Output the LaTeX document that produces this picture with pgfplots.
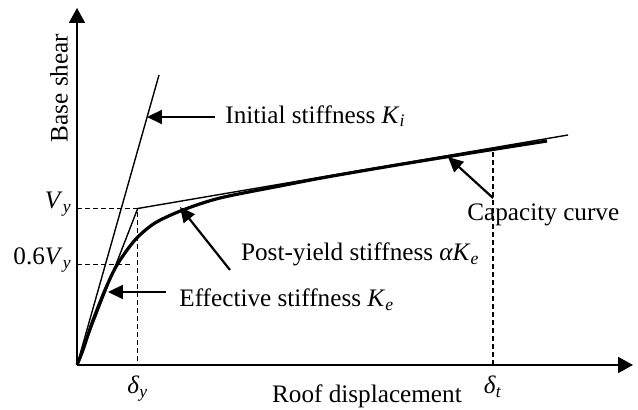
\documentclass[border=0pt]{standalone}
\usepackage{fontspec}
\setmainfont{Liberation Serif}
\usepackage{pgfplots}
\pgfplotsset{compat=1.18}
\usetikzlibrary{arrows.meta}
\newcommand{\sub}[1]{\textsubscript{\textit{#1}}}
\newcommand{\F}{\fontsize{12.6}{15}\selectfont}
\begin{document}
\begin{tikzpicture}
\path (-38.5pt,-22.5pt) rectangle (280.5pt,182.5pt);
\begin{axis}[
  at={(0,0)}, anchor=south west,
  x=0.5pt, y=0.5pt,
  xmin=0, xmax=556, ymin=0, ymax=357,
  axis lines=left,
  axis line style={line width=0.9pt},
  x axis line style={-{Triangle[length=7.5pt,width=8pt]}},
  y axis line style={-{Triangle[length=7.5pt,width=8pt]}},
  clip=false,
  major tick length=0pt,
  xtick={60.7,416},
  xticklabels={\F\textit{δ}\sub{y}, \F\textit{δ}\sub{t}},
  ytick={100.5,156.5},
  yticklabels={\F 0.6\textit{V}\sub{y}, \F\textit{V}\sub{y}},
  xticklabel style={inner sep=0pt, anchor=base, yshift=-14.5pt},
  yticklabel style={inner sep=0pt, anchor=base east, xshift=-2.5pt},
]
% initial stiffness
\addplot[black, line width=0.7pt] coordinates {(0,0) (82,290)};
% effective stiffness + post-yield (bilinear)
\addplot[black, line width=0.7pt] coordinates {(0,0) (60.7,156.5) (491,230)};
% capacity curve
\addplot[black, line width=1.6pt, smooth] coordinates {
 (0,0) (6,15) (15,42) (28,75) (40,100) (58,125) (78,142) (106,155)
 (143,167) (203,179) (250,188) (320,200) (400,213) (470,224)};
% dashed guides
\addplot[black, line width=0.7pt, dash pattern=on 2.5pt off 1.5pt] coordinates {(0,156.5) (60.7,156.5) (60.7,0)};
\addplot[black, line width=0.7pt, dash pattern=on 2.5pt off 1.5pt] coordinates {(0,100.5) (53,100.5)};
\addplot[black, line width=0.7pt, dash pattern=on 2.5pt off 1.5pt] coordinates {(416,0) (416,214)};
% annotations
\draw[-{Triangle[length=7.5pt,width=7pt]}, line width=1.1pt] (axis cs:138,248) -- (axis cs:70,248);
\node[anchor=base west, inner sep=0pt] at (axis cs:148,241.7) {\F Initial stiffness \textit{K}\sub{i}};
\draw[-{Triangle[length=7.5pt,width=7pt]}, line width=1.1pt] (axis cs:89,73) -- (axis cs:31,73);
\node[anchor=base west, inner sep=0pt] at (axis cs:102,58.5) {\F Effective stiffness \textit{K}\sub{e}};
\draw[-{Triangle[length=7.5pt,width=7pt]}, line width=1.1pt] (axis cs:153,95) -- (axis cs:103,158);
\node[anchor=base west, inner sep=0pt] at (axis cs:163.7,104.5) {\F Post-yield stiffness \textit{αK}\sub{e}};
\draw[-{Triangle[length=7.5pt,width=7pt]}, line width=1.1pt] (axis cs:416,167) -- (axis cs:371,208);
\node[anchor=base west, inner sep=0pt] at (axis cs:390,144.5) {\F Capacity curve};
\node[anchor=base west, inner sep=0pt] at (axis cs:194.7,-38) {\F Roof displacement};
\node[rotate=90, inner sep=0pt] at (axis cs:-18,277) {\F Base shear};
\end{axis}
\end{tikzpicture}
\end{document}
